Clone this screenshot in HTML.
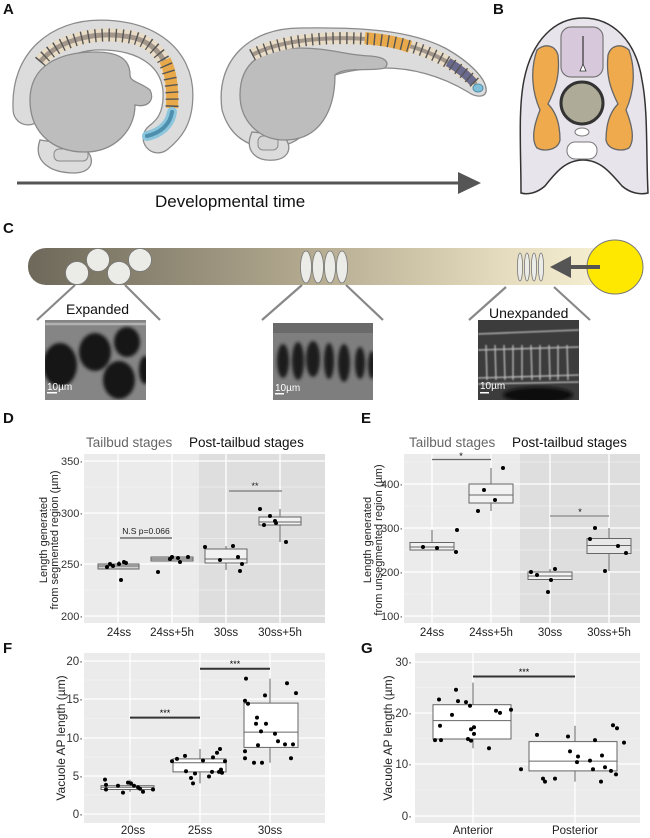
<!DOCTYPE html>
<html><head><meta charset="utf-8"><style>
html,body{margin:0;padding:0;background:#fff}
svg{display:block}
text{font-family:"Liberation Sans",Arial,sans-serif}
</style></head><body>
<svg width="650" height="838" viewBox="0 0 650 838" xmlns="http://www.w3.org/2000/svg">
<defs>
<linearGradient id="bar" x1="0" x2="1" y1="0" y2="0">
<stop offset="0" stop-color="#6d685a"/><stop offset="0.45" stop-color="#b0a78d"/><stop offset="0.8" stop-color="#e6ddc0"/><stop offset="1" stop-color="#fbf4d6"/></linearGradient>
<filter id="bl"><feGaussianBlur stdDeviation="1.6"/></filter>
<filter id="bl2"><feGaussianBlur stdDeviation="0.7"/></filter>
</defs>

<g font-weight="bold" font-size="15" fill="#111">
<text x="3" y="14">A</text><text x="493" y="14">B</text>
<text x="3" y="233">C</text><text x="3" y="423">D</text><text x="361" y="423">E</text>
<text x="3" y="653">F</text><text x="361" y="653">G</text></g>

<!-- Embryo 1 -->
<path d="M40,140 C33,160 48,173 75,173 C97,172 95,153 80,146 Z" fill="#dcdcdc" stroke="#8a8a8a" stroke-width="1.3"/>
<rect x="54" y="149" width="34" height="12" rx="5" fill="#d4d4d4" stroke="#8a8a8a"/>
<path d="M28,110 C25,60 60,35 100,35 C150,35 178,60 178,95 C178,120 168,130 158,138" fill="none" stroke="#8a8a8a" stroke-width="31" stroke-linecap="round"/>
<path d="M28,110 C25,60 60,35 100,35 C150,35 178,60 178,95 C178,120 168,130 158,138" fill="none" stroke="#dcdcdc" stroke-width="28.5" stroke-linecap="round"/>
<path d="M30,100 C30,65 60,52 95,52 C120,52 130,60 130,75 C130,82 140,82 150,90 C155,100 148,108 135,105 C135,130 115,152 85,152 C50,152 30,130 30,100 Z" fill="#bdbdbd" stroke="#8a8a8a" stroke-width="1.3"/>
<path d="M40,62 C60,38 100,30 135,38 C162,46 174,70 172,108" fill="none" stroke="#e9dcc6" stroke-width="13"/>
<path d="M40,62 C60,38 100,30 135,38 C162,46 174,70 172,108" fill="none" stroke="#a3968a" stroke-width="5"/>
<path d="M165,60 C171,72 173,88 172,108" fill="none" stroke="#e8a94a" stroke-width="12"/>
<path d="M40,62 C60,38 100,30 135,38 C162,46 174,70 172,108" fill="none" stroke="#555" stroke-width="13" stroke-dasharray="1.4 5.5"/>
<path d="M172,112 C170,125 160,133 147,136" fill="none" stroke="#8cc6dc" stroke-width="10" stroke-linecap="round"/>
<path d="M172,112 C170,125 160,133 147,136" fill="none" stroke="#4f8fae" stroke-width="4" stroke-linecap="round"/>

<!-- Embryo 2 -->
<path d="M222,110 C215,60 250,28 300,28 C360,27 410,30 445,48 C470,62 488,80 486,92 C484,98 475,97 468,92 C440,75 410,68 385,68 C370,68 350,70 335,75 C325,115 305,140 285,145 C262,152 232,145 222,110 Z" fill="#dcdcdc" stroke="#8a8a8a" stroke-width="1.3"/>
<path d="M252,132 C244,150 255,162 275,160 C293,158 292,140 280,135 Z" fill="#dcdcdc" stroke="#8a8a8a" stroke-width="1.3"/>
<rect x="258" y="136" width="20" height="14" rx="5" fill="#d4d4d4" stroke="#8a8a8a"/>
<path d="M240,95 C240,60 265,48 300,48 C330,48 345,55 370,56 C385,57 390,62 385,68 C370,72 345,66 335,75 C335,110 320,140 285,140 C258,140 240,120 240,95 Z" fill="#bdbdbd" stroke="#8a8a8a" stroke-width="1.3"/>
<path d="M252,55 C280,40 330,35 380,40 C420,45 455,62 476,84" fill="none" stroke="#e9dcc6" stroke-width="12"/>
<path d="M252,55 C280,40 330,35 380,40 C420,45 455,62 476,84" fill="none" stroke="#a3968a" stroke-width="4"/>
<path d="M365,38 C385,40 400,43 410,47" fill="none" stroke="#e8a94a" stroke-width="12"/>
<path d="M448,62 C460,69 468,76 474,83" fill="none" stroke="#6a6a8e" stroke-width="9"/>
<path d="M252,55 C280,40 330,35 380,40 C420,45 455,62 476,84" fill="none" stroke="#555" stroke-width="12" stroke-dasharray="1.4 5.5"/>
<ellipse cx="478" cy="88" rx="5" ry="4" fill="#7fbfd8" stroke="#4f8fae"/>

<line x1="17" y1="183" x2="462" y2="183" stroke="#555" stroke-width="3"/>
<polygon points="481,183 458,172 458,194" fill="#555"/>
<text x="155" y="207" font-size="17" fill="#111">Developmental time</text>

<!-- Panel B -->
<path d="M521,193 C521,150 518,110 524,80 C532,40 555,18 583,18 C612,18 636,40 642,80 C648,110 646,150 648,193 C640,195 630,193 622,186 C610,172 600,160 583,160 C566,160 556,172 545,186 C537,193 528,195 521,193 Z" fill="#e8e4ec" stroke="#333" stroke-width="1.5"/>
<path d="M537,50 C545,43 555,45 558,55 C560,75 556,88 548,104 C556,112 560,125 560,140 C558,150 545,152 537,148 C531,140 534,125 540,110 C532,92 530,70 537,50 Z" fill="#eeaa4c" stroke="#666" stroke-width="1.3"/>
<path d="M629,50 C621,43 611,45 608,55 C606,75 610,88 618,104 C610,112 606,125 606,140 C608,150 621,152 629,148 C635,140 632,125 626,110 C634,92 636,70 629,50 Z" fill="#eeaa4c" stroke="#666" stroke-width="1.3"/>
<rect x="561" y="27" width="42" height="50" rx="10" fill="#d8c8dc" stroke="#777" stroke-width="1.2"/>
<line x1="583" y1="36" x2="583" y2="66" stroke="#333" stroke-width="1.2"/>
<polygon points="583,64 580,71 586,71" fill="#fff" stroke="#333" stroke-width="0.8"/>
<circle cx="582" cy="103" r="21" fill="#aeab98" stroke="#333" stroke-width="3"/>
<ellipse cx="582" cy="132" rx="7" ry="4" fill="#fff" stroke="#777"/>
<rect x="567" y="142" width="30" height="17" rx="8" fill="#fff" stroke="#777"/>

<!-- Panel C -->
<rect x="28" y="248" width="600" height="37" rx="18" fill="url(#bar)"/>
<g fill="#ebebe8" stroke="#777" stroke-width="0.8">
<ellipse cx="77" cy="273" rx="11.5" ry="11.5"/><ellipse cx="98" cy="260" rx="11.5" ry="11.5"/>
<ellipse cx="119" cy="273" rx="11.5" ry="11.5"/><ellipse cx="140" cy="260" rx="11.5" ry="11.5"/>
<ellipse cx="306" cy="267" rx="5.5" ry="16"/><ellipse cx="318" cy="267" rx="5.5" ry="16"/>
<ellipse cx="330" cy="267" rx="5.5" ry="16"/><ellipse cx="342" cy="267" rx="5.5" ry="16"/>
<ellipse cx="520" cy="267" rx="2.6" ry="14"/><ellipse cx="527" cy="267" rx="2.6" ry="14"/>
<ellipse cx="534" cy="267" rx="2.6" ry="14"/><ellipse cx="541" cy="267" rx="2.6" ry="14"/></g>
<ellipse cx="615" cy="267" rx="28" ry="27" fill="#ffe800" stroke="#777" stroke-width="1"/>
<line x1="600" y1="267" x2="568" y2="267" stroke="#555" stroke-width="4"/>
<polygon points="550,267 571,256 571,278" fill="#555"/>
<g stroke="#888" stroke-width="2.2">
<line x1="75" y1="285" x2="37" y2="320"/><line x1="125" y1="285" x2="160" y2="320"/>
<line x1="302" y1="285" x2="262" y2="320"/><line x1="346" y1="285" x2="383" y2="320"/>
<line x1="506" y1="287" x2="469" y2="320"/><line x1="554" y1="287" x2="590" y2="320"/></g>
<text x="66" y="314" font-size="14" fill="#111">Expanded</text>
<text x="489" y="318" font-size="14" fill="#111">Unexpanded</text>

<svg x="45" y="320" width="101" height="80" viewBox="0 0 101 80">
<rect width="101" height="80" fill="#858585"/>
<g filter="url(#bl)" fill="#181818">
<ellipse cx="15" cy="45" rx="17" ry="22"/><ellipse cx="50" cy="32" rx="16" ry="19"/>
<ellipse cx="74" cy="60" rx="16" ry="19"/><ellipse cx="82" cy="22" rx="13" ry="15"/><ellipse cx="100" cy="50" rx="6" ry="14"/></g>
<g filter="url(#bl2)" fill="#fff" opacity="0.5"><rect x="0" y="3" width="101" height="2"/></g>
<rect x="2" y="72" width="10" height="1.5" fill="#fff"/>
<text x="2" y="70" font-size="10" fill="#fff">10µm</text></svg>

<svg x="273" y="323" width="100" height="77" viewBox="0 0 100 77">
<rect width="100" height="77" fill="#7e7e7e"/>
<rect width="100" height="10" fill="#6a6a6a"/>
<g filter="url(#bl)" fill="#1a1a1a">
<ellipse cx="10" cy="38" rx="6" ry="17"/><ellipse cx="25" cy="38" rx="6" ry="19"/><ellipse cx="40" cy="36" rx="7" ry="18"/>
<ellipse cx="56" cy="38" rx="5" ry="18"/><ellipse cx="71" cy="40" rx="6" ry="19"/><ellipse cx="87" cy="40" rx="5" ry="16"/><ellipse cx="99" cy="42" rx="4" ry="14"/></g>
<rect x="2" y="70" width="9" height="1.5" fill="#fff"/>
<text x="2" y="68" font-size="10" fill="#fff">10µm</text></svg>

<svg x="478" y="320" width="101" height="80" viewBox="0 0 101 80">
<rect width="101" height="80" fill="#3c3c3c"/>
<g stroke="#e0e0e0" stroke-width="1.3" opacity="0.8" filter="url(#bl2)">
<line x1="0" y1="14" x2="101" y2="10"/><line x1="0" y1="30" x2="101" y2="27"/><line x1="0" y1="58" x2="101" y2="55"/><line x1="0" y1="64" x2="101" y2="62"/>
<line x1="8" y1="25" x2="9" y2="60"/><line x1="17" y1="25" x2="18" y2="60"/><line x1="26" y1="25" x2="27" y2="60"/><line x1="35" y1="25" x2="35" y2="60"/>
<line x1="44" y1="25" x2="44" y2="60"/><line x1="53" y1="25" x2="54" y2="60"/><line x1="62" y1="25" x2="62" y2="60"/><line x1="71" y1="25" x2="72" y2="60"/>
<line x1="80" y1="25" x2="80" y2="60"/><line x1="89" y1="25" x2="90" y2="60"/></g>
<ellipse cx="60" cy="75" rx="35" ry="8" fill="#111" filter="url(#bl)"/>
<rect x="2" y="72" width="9" height="1.5" fill="#fff"/>
<text x="2" y="69" font-size="10" fill="#fff">10µm</text></svg>

<text x="86" y="447" font-size="13.5" fill="#666">Tailbud stages</text>
<text x="189" y="447" font-size="13.5" fill="#111">Post-tailbud stages</text>
<text x="409" y="447" font-size="13.5" fill="#666">Tailbud stages</text>
<text x="512" y="447" font-size="13.5" fill="#111">Post-tailbud stages</text>

<!-- Panel D -->
<rect x="84" y="454" width="241" height="169" fill="#ebebeb"/>
<rect x="199" y="454" width="126" height="169" fill="#dedede"/>
<g stroke="#f6f6f6" stroke-width="0.6"><line x1="84" x2="325" y1="487" y2="487"/><line x1="84" x2="325" y1="538.5" y2="538.5"/><line x1="84" x2="325" y1="590" y2="590"/></g>
<g stroke="#fff" stroke-width="1.3"><line x1="84" x2="325" y1="461" y2="461"/><line x1="84" x2="325" y1="513" y2="513"/><line x1="84" x2="325" y1="564" y2="564"/><line x1="84" x2="325" y1="616" y2="616"/>
<line x1="118" x2="118" y1="454" y2="623"/><line x1="172" x2="172" y1="454" y2="623"/><line x1="226" x2="226" y1="454" y2="623"/><line x1="280" x2="280" y1="454" y2="623"/></g>
<g font-size="11" fill="#333" text-anchor="end"><text x="83" y="465">350·</text><text x="83" y="517">300·</text><text x="83" y="568">250·</text><text x="83" y="620">200·</text></g>
<g font-size="11.5" fill="#222" text-anchor="middle"><text x="119" y="636">24ss</text><text x="172" y="636">24ss+5h</text><text x="226" y="636">30ss</text><text x="280" y="636">30ss+5h</text></g>
<g font-size="11" fill="#222" text-anchor="middle"><text transform="translate(47,540) rotate(-90)">Length generated</text><text transform="translate(58,540) rotate(-90)">from segmented region (µm)</text></g>
<g stroke="#666" stroke-width="1" fill="none">
<line x1="119" x2="119" y1="561" y2="569"/><rect x="98" y="564" width="41" height="5" fill="#cfcfcf"/><line x1="98" x2="139" y1="566" y2="566"/>
<line x1="172" x2="172" y1="557" y2="561"/><rect x="151" y="557" width="42" height="4" fill="#cfcfcf"/><line x1="151" x2="193" y1="559" y2="559"/>
<line x1="226" x2="226" y1="546" y2="570"/><rect x="205" y="549" width="42" height="14" fill="#f2f2f2"/><line x1="205" x2="247" y1="559" y2="559"/>
<line x1="280" x2="280" y1="509" y2="542"/><rect x="259" y="517" width="42" height="8" fill="#f2f2f2"/><line x1="259" x2="301" y1="522" y2="522"/></g>
<g fill="#000"><circle cx="107" cy="567" r="2"/><circle cx="110" cy="564" r="2"/><circle cx="113" cy="566" r="2"/><circle cx="119" cy="564" r="2"/><circle cx="124" cy="562" r="2"/><circle cx="121" cy="580" r="2"/><circle cx="126" cy="563" r="2"/>
<circle cx="158" cy="572" r="2"/><circle cx="170" cy="559" r="2"/><circle cx="172" cy="557" r="2"/><circle cx="178" cy="558" r="2"/><circle cx="180" cy="562" r="2"/><circle cx="188" cy="557" r="2"/>
<circle cx="205" cy="547" r="2"/><circle cx="220" cy="560" r="2"/><circle cx="233" cy="546" r="2"/><circle cx="238" cy="557" r="2"/><circle cx="242" cy="564" r="2"/><circle cx="240" cy="571" r="2"/>
<circle cx="260" cy="509" r="2"/><circle cx="264" cy="525" r="2"/><circle cx="270" cy="516" r="2"/><circle cx="275" cy="521" r="2"/><circle cx="276" cy="523" r="2"/><circle cx="286" cy="542" r="2"/></g>
<line x1="120" x2="172" y1="538" y2="538" stroke="#555" stroke-width="1.3"/>
<text x="146" y="534" font-size="8.5" fill="#222" text-anchor="middle">N.S p=0.066</text>
<line x1="229" x2="282" y1="491" y2="491" stroke="#777" stroke-width="1.3"/>
<text x="255" y="489" font-size="9" fill="#222" text-anchor="middle">**</text>

<!-- Panel E -->
<rect x="404" y="454" width="236" height="169" fill="#ebebeb"/>
<rect x="520" y="454" width="120" height="169" fill="#dedede"/>
<g stroke="#f6f6f6" stroke-width="0.6"><line x1="404" x2="640" y1="462" y2="462"/><line x1="404" x2="640" y1="506" y2="506"/><line x1="404" x2="640" y1="550" y2="550"/><line x1="404" x2="640" y1="594" y2="594"/></g>
<g stroke="#fff" stroke-width="1.3"><line x1="404" x2="640" y1="484" y2="484"/><line x1="404" x2="640" y1="528" y2="528"/><line x1="404" x2="640" y1="572" y2="572"/><line x1="404" x2="640" y1="616" y2="616"/>
<line x1="432" x2="432" y1="454" y2="623"/><line x1="491" x2="491" y1="454" y2="623"/><line x1="550" x2="550" y1="454" y2="623"/><line x1="609" x2="609" y1="454" y2="623"/></g>
<g font-size="11" fill="#333" text-anchor="end"><text x="403" y="488">400·</text><text x="403" y="532">300·</text><text x="403" y="576">200·</text><text x="403" y="620">100·</text></g>
<g font-size="11.5" fill="#222" text-anchor="middle"><text x="432" y="636">24ss</text><text x="491" y="636">24ss+5h</text><text x="550" y="636">30ss</text><text x="609" y="636">30ss+5h</text></g>
<g font-size="11" fill="#222" text-anchor="middle"><text transform="translate(371,540) rotate(-90)">Length generated</text><text transform="translate(382,540) rotate(-90)">from unsegmented region (µm)</text></g>
<g stroke="#666" stroke-width="1" fill="none">
<line x1="432" x2="432" y1="530" y2="550"/><rect x="410" y="542.5" width="44" height="7.5" fill="#f2f2f2"/><line x1="410" x2="454" y1="547" y2="547"/>
<line x1="491" x2="491" y1="468" y2="511"/><rect x="469" y="484" width="44" height="19" fill="#f2f2f2"/><line x1="469" x2="513" y1="495" y2="495"/>
<line x1="550" x2="550" y1="569" y2="580"/><rect x="528" y="572" width="44" height="7.5" fill="#f2f2f2"/><line x1="528" x2="572" y1="576" y2="576"/>
<line x1="609" x2="609" y1="528" y2="571"/><rect x="587" y="538.5" width="44" height="15" fill="#e8e8e8"/><line x1="587" x2="631" y1="545.5" y2="545.5"/></g>
<g fill="#000"><circle cx="423" cy="547" r="2"/><circle cx="437" cy="548" r="2"/><circle cx="456" cy="552" r="2"/><circle cx="457" cy="530" r="2"/>
<circle cx="484" cy="490" r="2"/><circle cx="478" cy="511" r="2"/><circle cx="495" cy="500" r="2"/><circle cx="503" cy="468" r="2"/>
<circle cx="531" cy="572" r="2"/><circle cx="537" cy="575" r="2"/><circle cx="548" cy="592" r="2"/><circle cx="551" cy="580" r="2"/><circle cx="555" cy="569" r="2"/>
<circle cx="590" cy="539" r="2"/><circle cx="595" cy="528" r="2"/><circle cx="618" cy="546" r="2"/><circle cx="626" cy="553" r="2"/><circle cx="605" cy="571" r="2"/></g>
<line x1="432" x2="491" y1="459.5" y2="459.5" stroke="#666" stroke-width="1.3"/><text x="461" y="459" font-size="9" text-anchor="middle">*</text>
<line x1="550" x2="609" y1="516" y2="516" stroke="#888" stroke-width="1.3"/><text x="580" y="515" font-size="9" text-anchor="middle">*</text>

<!-- Panel F -->
<rect x="84" y="653" width="241" height="170" fill="#ebebeb"/>
<g stroke="#f6f6f6" stroke-width="0.6"><line x1="84" x2="325" y1="680" y2="680"/><line x1="84" x2="325" y1="718.5" y2="718.5"/><line x1="84" x2="325" y1="757" y2="757"/><line x1="84" x2="325" y1="795" y2="795"/></g>
<g stroke="#fff" stroke-width="1.3"><line x1="84" x2="325" y1="661" y2="661"/><line x1="84" x2="325" y1="699" y2="699"/><line x1="84" x2="325" y1="738" y2="738"/><line x1="84" x2="325" y1="776" y2="776"/><line x1="84" x2="325" y1="814" y2="814"/>
<line x1="130" x2="130" y1="653" y2="823"/><line x1="200" x2="200" y1="653" y2="823"/><line x1="270" x2="270" y1="653" y2="823"/></g>
<g font-size="11.5" fill="#333" text-anchor="end"><text x="83" y="665">20·</text><text x="83" y="703">15·</text><text x="83" y="742">10·</text><text x="83" y="780">5·</text><text x="83" y="818">0·</text></g>
<g font-size="11.5" fill="#222" text-anchor="middle"><text x="133" y="834">20ss</text><text x="200" y="834">25ss</text><text x="270" y="834">30ss</text></g>
<text transform="translate(65,738) rotate(-90)" font-size="12" fill="#222" text-anchor="middle">Vacuole AP length (µm)</text>
<g stroke="#666" stroke-width="1" fill="#fff">
<line x1="130" x2="130" y1="779.6" y2="791.8"/><rect x="101" y="785.7" width="53" height="3.8"/><line x1="101" x2="154" y1="787.2" y2="787.2"/>
<line x1="200" x2="200" y1="749" y2="783.4"/><rect x="173" y="758.9" width="53" height="13"/><line x1="173" x2="226" y1="762.7" y2="762.7"/>
<line x1="270" x2="270" y1="678.6" y2="762.7"/><rect x="244" y="703.1" width="54" height="44.3"/><line x1="244" x2="298" y1="732.1" y2="732.1"/></g>
<g fill="#000">
<circle cx="105" cy="779.6" r="2"/><circle cx="106" cy="784.9" r="2"/><circle cx="106" cy="789.5" r="2"/><circle cx="118" cy="785.7" r="2"/><circle cx="123" cy="792.6" r="2"/><circle cx="128" cy="782.6" r="2"/><circle cx="131" cy="783.4" r="2"/><circle cx="134" cy="785.7" r="2"/><circle cx="138" cy="787.2" r="2"/><circle cx="140" cy="788.8" r="2"/><circle cx="143" cy="791.8" r="2"/><circle cx="153" cy="789.5" r="2"/>
<circle cx="172" cy="761.2" r="2"/><circle cx="177" cy="758.9" r="2"/><circle cx="185" cy="755.9" r="2"/><circle cx="186" cy="771.2" r="2"/><circle cx="191" cy="778" r="2"/><circle cx="193" cy="783.4" r="2"/><circle cx="195" cy="773.5" r="2"/><circle cx="203" cy="760.5" r="2"/><circle cx="209" cy="776.5" r="2"/><circle cx="212" cy="771.9" r="2"/><circle cx="213" cy="757.4" r="2"/><circle cx="217" cy="752.8" r="2"/><circle cx="219" cy="771.9" r="2"/><circle cx="220" cy="749" r="2"/><circle cx="221" cy="769.6" r="2"/><circle cx="222" cy="772.7" r="2"/><circle cx="225" cy="761.2" r="2"/>
<circle cx="245" cy="700.8" r="2"/><circle cx="246" cy="678.6" r="2"/><circle cx="245" cy="751.3" r="2"/><circle cx="245" cy="758.2" r="2"/><circle cx="248" cy="703.8" r="2"/><circle cx="254" cy="762.7" r="2"/><circle cx="256" cy="723.7" r="2"/><circle cx="257" cy="717.6" r="2"/><circle cx="258" cy="745.2" r="2"/><circle cx="261" cy="731.4" r="2"/><circle cx="262" cy="762.7" r="2"/><circle cx="265" cy="695.4" r="2"/><circle cx="266" cy="723.7" r="2"/><circle cx="275" cy="733.7" r="2"/><circle cx="278" cy="741.3" r="2"/><circle cx="285" cy="744.4" r="2"/><circle cx="287" cy="683.2" r="2"/><circle cx="291" cy="758.2" r="2"/><circle cx="293" cy="744.4" r="2"/><circle cx="296" cy="693.1" r="2"/></g>
<line x1="130" x2="200" y1="717.6" y2="717.6" stroke="#333" stroke-width="2"/><text x="165" y="716" font-size="9" text-anchor="middle">***</text>
<line x1="200" x2="270" y1="668.7" y2="668.7" stroke="#333" stroke-width="2"/><text x="235" y="667" font-size="9" text-anchor="middle">***</text>

<!-- Panel G -->
<rect x="415" y="653" width="225" height="170" fill="#ebebeb"/>
<g stroke="#f6f6f6" stroke-width="0.6"><line x1="415" x2="640" y1="687.5" y2="687.5"/><line x1="415" x2="640" y1="738.5" y2="738.5"/><line x1="415" x2="640" y1="790" y2="790"/></g>
<g stroke="#fff" stroke-width="1.3"><line x1="415" x2="640" y1="662" y2="662"/><line x1="415" x2="640" y1="713" y2="713"/><line x1="415" x2="640" y1="764" y2="764"/><line x1="415" x2="640" y1="816" y2="816"/>
<line x1="473" x2="473" y1="653" y2="823"/><line x1="575" x2="575" y1="653" y2="823"/></g>
<g font-size="11.5" fill="#333" text-anchor="end"><text x="412" y="666">30·</text><text x="412" y="717">20·</text><text x="412" y="768">10·</text><text x="412" y="820">0·</text></g>
<g font-size="11.5" fill="#222" text-anchor="middle"><text x="473" y="834">Anterior</text><text x="575" y="834">Posterior</text></g>
<text transform="translate(392,738) rotate(-90)" font-size="12" fill="#222" text-anchor="middle">Vacuole AP length (µm)</text>
<g stroke="#666" stroke-width="1" fill="#fff">
<line x1="473" x2="473" y1="682.6" y2="748.3"/><rect x="433" y="704.7" width="78" height="34.3"/><line x1="433" x2="511" y1="720.6" y2="720.6"/>
<line x1="575" x2="575" y1="725.7" y2="781.6"/><rect x="529" y="741.6" width="88" height="29.3"/><line x1="529" x2="617" y1="761.1" y2="761.1"/></g>
<g fill="#000">
<circle cx="435" cy="740.1" r="2"/><circle cx="439" cy="699.5" r="2"/><circle cx="440" cy="725.7" r="2"/><circle cx="441" cy="740.1" r="2"/><circle cx="452" cy="714.9" r="2"/><circle cx="456" cy="689.8" r="2"/><circle cx="458" cy="701.1" r="2"/><circle cx="466" cy="702.1" r="2"/><circle cx="468" cy="739" r="2"/><circle cx="470" cy="705.7" r="2"/><circle cx="471" cy="740.6" r="2"/><circle cx="471" cy="729.3" r="2"/><circle cx="474" cy="727.3" r="2"/><circle cx="474" cy="733.9" r="2"/><circle cx="489" cy="748.3" r="2"/><circle cx="496" cy="710.8" r="2"/><circle cx="500" cy="712.9" r="2"/><circle cx="511" cy="709.8" r="2"/>
<circle cx="521" cy="769.3" r="2"/><circle cx="537" cy="734.9" r="2"/><circle cx="543" cy="778.6" r="2"/><circle cx="545" cy="781.6" r="2"/><circle cx="555" cy="778.6" r="2"/><circle cx="568" cy="736.5" r="2"/><circle cx="570" cy="751.4" r="2"/><circle cx="577" cy="762.1" r="2"/><circle cx="578" cy="756.5" r="2"/><circle cx="590" cy="760.6" r="2"/><circle cx="593" cy="769.3" r="2"/><circle cx="595" cy="740.1" r="2"/><circle cx="601" cy="781.6" r="2"/><circle cx="602" cy="755.5" r="2"/><circle cx="605" cy="767.3" r="2"/><circle cx="611" cy="770.9" r="2"/><circle cx="613" cy="725.2" r="2"/><circle cx="616" cy="774.4" r="2"/><circle cx="617" cy="728.3" r="2"/><circle cx="624" cy="742.6" r="2"/></g>
<line x1="473" x2="575" y1="676.5" y2="676.5" stroke="#333" stroke-width="2"/><text x="524" y="675" font-size="9" text-anchor="middle">***</text>
</svg>
</body></html>
